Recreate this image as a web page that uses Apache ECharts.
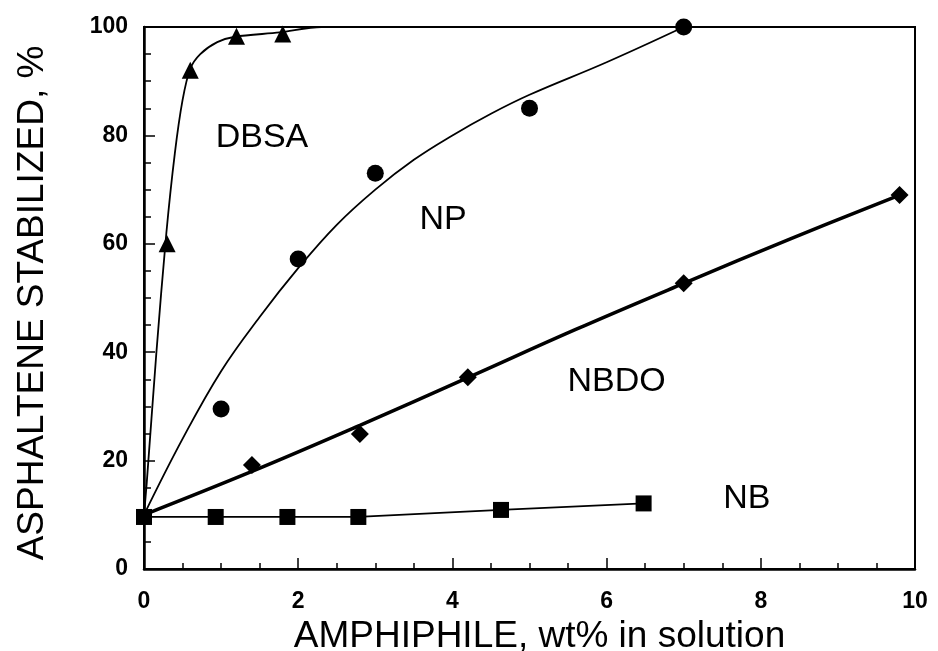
<!DOCTYPE html>
<html>
<head>
<meta charset="utf-8">
<script src="https://cdn.jsdelivr.net/npm/echarts@6/dist/echarts.min.js"></script>
<style>
  html, body { margin: 0; padding: 0; background: #fff; }
  #chartmain { width: 938px; height: 651px; }
</style>
</head>
<body>
<div id="chartmain"></div>
<script>
// measured points (x = wt% amphiphile, y = % stabilized)
var dbsaPts = [[0.3, 60], [0.6, 92], [1.2, 98.3], [1.8, 98.7]];
var npPts = [[1, 29.5], [2, 57.2], [3, 73], [5, 85], [7, 100]];
var nbdoPts = [[1.4, 19.2], [2.8, 24.9], [4.2, 35.4], [7, 52.7], [9.8, 69]];
var nbPts = [[0, 9.6], [0.93, 9.6], [1.86, 9.6], [2.78, 9.6], [4.63, 10.9], [6.48, 12.1]];

// fitted curves
var dbsaFit = [[0, 10], [0.035, 15.8], [0.16, 39.8], [0.29, 62], [0.4, 76.7], [0.5, 86.5], [0.6, 92.3],
  [0.73, 95.0], [0.95, 97.2], [1.18, 98.2], [1.76, 99], [2.3, 100], [10, 100]];
var npFit = [[0, 10], [0.5, 24], [1, 36.5], [1.5, 46.5], [2, 55.5], [2.5, 63.5], [3, 70], [3.5, 75.5],
  [4, 80], [4.5, 84], [5, 87.5], [6, 93.5], [7, 100]];
var nbdoFit = [[0, 10], [1.4, 18], [2.8, 26.5], [4.2, 35.3], [5.6, 44.2], [7, 52.7], [8.4, 61], [9.8, 69]];

// curve names placed inside the plot
var curveLabels = [[1.53, 79.5, 'DBSA'], [3.88, 64.4, 'NP'], [6.13, 34.5, 'NBDO'], [7.82, 12.9, 'NB']];

var font = "'Liberation Sans', Arial, Helvetica, sans-serif";

var option = {
  animation: false,
  backgroundColor: '#fff',
  grid: {
    left: 144, right: 23, top: 27, bottom: 82,
    outerBoundsMode: 'none', containLabel: false,
    show: true, borderColor: '#000', borderWidth: 2, backgroundColor: 'transparent'
  },
  xAxis: {
    type: 'value', min: 0, max: 10, interval: 2,
    name: 'AMPHIPHILE, wt% in solution',
    nameLocation: 'middle', nameGap: 38,
    nameTextStyle: { color: '#000', fontSize: 37, fontFamily: font, padding: [0, 0, 0, 20] },
    axisLine: { lineStyle: { color: '#000', width: 2.5 } },
    axisTick: { inside: true, length: 11, lineStyle: { color: '#000', width: 1.5 } },
    minorTick: { show: true, splitNumber: 4, length: 6, lineStyle: { color: '#000', width: 1.5 } },
    axisLabel: { color: '#000', fontSize: 23, fontWeight: 'bold', fontFamily: font, margin: 21 },
    splitLine: { show: false }
  },
  yAxis: {
    type: 'value', min: 0, max: 100, interval: 20,
    name: 'ASPHALTENE STABILIZED, %',
    nameLocation: 'middle', nameGap: 93, nameRotate: 90,
    nameTextStyle: { color: '#000', fontSize: 37, fontFamily: font, padding: [0, 10, 0, 0] },
    axisLine: { lineStyle: { color: '#000', width: 2.5 } },
    axisTick: { inside: true, length: 11, lineStyle: { color: '#000', width: 1.5 } },
    minorTick: { show: true, splitNumber: 4, length: 7, lineStyle: { color: '#000', width: 1.5 } },
    axisLabel: { color: '#000', fontSize: 23, fontWeight: 'bold', fontFamily: font, margin: 16 },
    splitLine: { show: false }
  },
  series: [
    {
      name: 'DBSA fit', type: 'line', data: dbsaFit, smooth: 0.3, showSymbol: false,
      lineStyle: { color: '#000', width: 1.8 }
    },
    {
      name: 'DBSA', type: 'scatter', data: dbsaPts, symbol: 'triangle', symbolSize: 17,
      itemStyle: { color: '#000', opacity: 1 }
    },
    {
      name: 'NP fit', type: 'line', data: npFit, smooth: 0.4, showSymbol: false,
      lineStyle: { color: '#000', width: 1.8 }
    },
    {
      name: 'NP', type: 'scatter', data: npPts, symbol: 'circle', symbolSize: 17,
      itemStyle: { color: '#000', opacity: 1 }
    },
    {
      name: 'NBDO fit', type: 'line', data: nbdoFit, smooth: 0.4, showSymbol: false,
      lineStyle: { color: '#000', width: 3.5 }
    },
    {
      name: 'NBDO', type: 'scatter', data: nbdoPts, symbol: 'diamond', symbolSize: 18,
      itemStyle: { color: '#000', opacity: 1 }
    },
    {
      name: 'NB', type: 'line', data: nbPts, symbol: 'rect', symbolSize: 16, showSymbol: true,
      lineStyle: { color: '#000', width: 1.8 }, itemStyle: { color: '#000', opacity: 1 }
    },
    {
      name: 'labels', type: 'scatter', symbolSize: 0,
      itemStyle: { opacity: 1 },
      data: curveLabels.map(function (d) { return { value: [d[0], d[1]], name: d[2] }; }),
      label: {
        show: true, position: 'inside', formatter: '{b}',
        color: '#000', fontSize: 34, fontFamily: font
      }
    }
  ]
};

var chartmain = echarts.init(document.getElementById('chartmain'));
chartmain.setOption(option);
</script>
</body>
</html>
